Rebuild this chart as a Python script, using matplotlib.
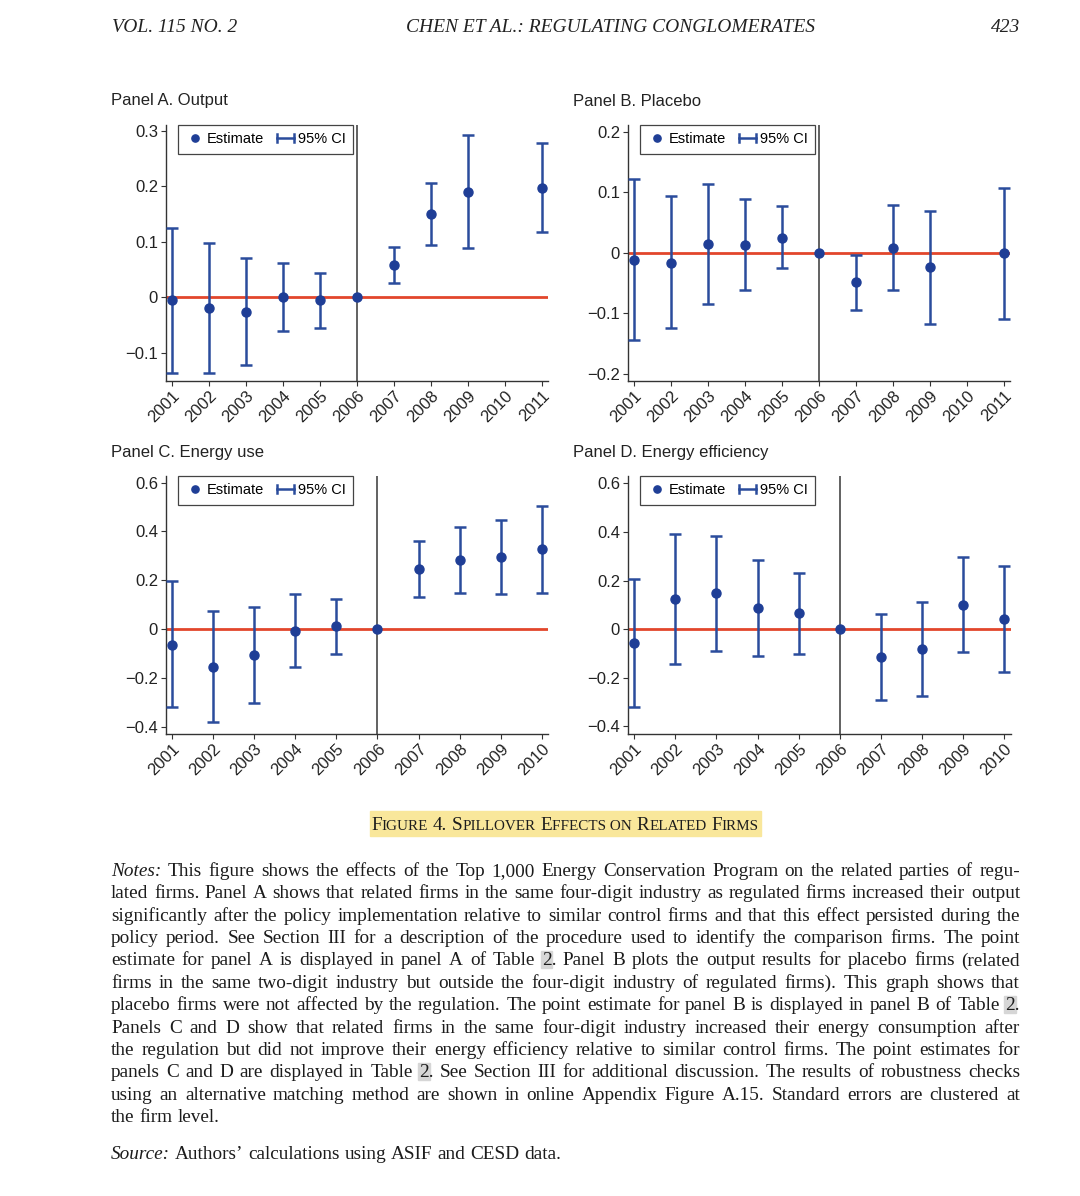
import matplotlib
matplotlib.use('Agg')
import matplotlib.pyplot as plt
from matplotlib.lines import Line2D
from matplotlib.patches import Rectangle
from matplotlib.legend_handler import HandlerBase
import numpy as np

# ---- data ----
years_ab = [2001, 2002, 2003, 2004, 2005, 2006, 2007, 2008, 2009, 2011]
years_cd = [2001, 2002, 2003, 2004, 2005, 2006, 2007, 2008, 2009, 2010]

out_est = [-0.006, -0.020, -0.027, 0.000, -0.006, 0.0, 0.058, 0.149, 0.190, 0.197]
out_lo = [-0.137, -0.137, -0.123, -0.061, -0.056, None, 0.025, 0.094, 0.089, 0.117]
out_hi = [0.125, 0.097, 0.070, 0.062, 0.044, None, 0.091, 0.205, 0.292, 0.278]

plc_est = [-0.012, -0.017, 0.014, 0.013, 0.025, 0.0, -0.049, 0.008, -0.024, -0.001]
plc_lo = [-0.144, -0.125, -0.085, -0.062, -0.026, None, -0.094, -0.062, -0.118, -0.109]
plc_hi = [0.121, 0.093, 0.114, 0.089, 0.077, None, -0.003, 0.079, 0.069, 0.107]

eng_est = [-0.064, -0.155, -0.106, -0.007, 0.012, 0.0, 0.245, 0.284, 0.296, 0.327]
eng_lo = [-0.319, -0.382, -0.303, -0.157, -0.102, None, 0.131, 0.147, 0.145, 0.147]
eng_hi = [0.195, 0.074, 0.091, 0.143, 0.125, None, 0.361, 0.417, 0.446, 0.506]

eff_est = [-0.056, 0.125, 0.148, 0.086, 0.066, 0.0, -0.115, -0.081, 0.101, 0.041]
eff_lo = [-0.321, -0.144, -0.088, -0.110, -0.100, None, -0.290, -0.273, -0.092, -0.174]
eff_hi = [0.208, 0.393, 0.384, 0.285, 0.233, None, 0.062, 0.110, 0.296, 0.260]

yticks_a = [-0.1, 0, 0.1, 0.2, 0.3]
yticks_b = [-0.2, -0.1, 0, 0.1, 0.2]
yticks_cd = [-0.4, -0.2, 0, 0.2, 0.4, 0.6]
xticks_ab = list(range(2001, 2012))
xticks_cd = list(range(2001, 2011))

header_left = "VOL. 115 NO. 2"
header_mid = "CHEN ET AL.: REGULATING CONGLOMERATES"
header_right = "423"

notes_lines = [
    "Notes: This figure shows the effects of the Top 1,000 Energy Conservation Program on the related parties of regu-",
    "lated firms. Panel A shows that related firms in the same four-digit industry as regulated firms increased their output",
    "significantly after the policy implementation relative to similar control firms and that this effect persisted during the",
    "policy period. See Section III for a description of the procedure used to identify the comparison firms. The point",
    "estimate for panel A is displayed in panel A of Table 2. Panel B plots the output results for placebo firms (related",
    "firms in the same two-digit industry but outside the four-digit industry of regulated firms). This graph shows that",
    "placebo firms were not affected by the regulation. The point estimate for panel B is displayed in panel B of Table 2.",
    "Panels C and D show that related firms in the same four-digit industry increased their energy consumption after",
    "the regulation but did not improve their energy efficiency relative to similar control firms. The point estimates for",
    "panels C and D are displayed in Table 2. See Section III for additional discussion. The results of robustness checks",
    "using an alternative matching method are shown in online Appendix Figure A.15. Standard errors are clustered at",
    "the firm level.",
]
source_line = "Source: Authors\u2019 calculations using ASIF and CESD data."

W, H = 1080, 1196
blue = '#2a4c9c'
dot = '#1f3e96'
red = '#e2462c'
ink = '#1c1c1c'
sans = ['Liberation Sans', 'DejaVu Sans']
serif = ['Liberation Serif', 'DejaVu Serif']

fig = plt.figure(figsize=(W / 100, H / 100), dpi=100)
rend = fig.canvas.get_renderer()


def box(l, t, r, b):
    return [l / W, 1 - b / H, (r - l) / W, (b - t) / H]


class CIHandle:
    pass


class HandlerCI(HandlerBase):
    def create_artists(self, legend, orig_handle, xdescent, ydescent,
                       width, height, fontsize, trans):
        y = height / 2 - ydescent
        x0, x1 = -xdescent + 1, width - xdescent - 1
        h = height * 0.42
        arts = [Line2D([x0, x1], [y, y], color=blue, lw=1.8),
                Line2D([x0, x0], [y - h, y + h], color=blue, lw=1.8),
                Line2D([x1, x1], [y - h, y + h], color=blue, lw=1.8)]
        for a in arts:
            a.set_transform(trans)
        return arts


def fmt(v):
    if v == 0:
        return '0'
    return ('%.1f' % v).replace('-', '\u2212')


def panel(rect, title, years, est, lo, hi, ylim, yticks, xticks, xlim):
    ax = fig.add_axes(box(*rect))
    x = np.array(years, dtype=float)
    e = np.array(est, dtype=float)
    l = np.array([np.nan if v is None else v for v in lo])
    u = np.array([np.nan if v is None else v for v in hi])
    m = ~np.isnan(l)
    ax.axvline(2006, color='#555555', lw=1.3, zorder=1)
    ax.axhline(0, color=red, lw=2.0, zorder=2)
    ax.errorbar(x[m], e[m], yerr=[e[m] - l[m], u[m] - e[m]], fmt='none',
                ecolor=blue, elinewidth=1.8, capsize=4.5, capthick=1.8, zorder=3)
    ax.plot(x, e, 'o', color=dot, ms=6.5, zorder=4)
    ax.set_xlim(*xlim)
    ax.set_ylim(*ylim)
    ax.set_yticks(yticks)
    ax.set_yticklabels([fmt(v) for v in yticks])
    ax.set_xticks(xticks)
    ax.set_xticklabels([str(v) for v in xticks], rotation=45, ha='right',
                       va='top', rotation_mode='anchor')
    for s in ['top', 'right']:
        ax.spines[s].set_visible(False)
    for s in ['left', 'bottom']:
        ax.spines[s].set_color('#333333')
        ax.spines[s].set_linewidth(1.0)
    ax.tick_params(direction='out', length=3.5, width=0.8, color='#333333',
                   labelsize=12, labelcolor='#222222', pad=2)
    for t in ax.get_xticklabels() + ax.get_yticklabels():
        t.set_family(sans)
    hs = [Line2D([], [], marker='o', ls='none', color=dot, ms=5.2), CIHandle()]
    leg = ax.legend(hs, ['Estimate', '95% CI'], handler_map={CIHandle: HandlerCI()},
                    loc='upper left', bbox_to_anchor=(12 / (rect[2] - rect[0]), 1.0),
                    ncol=2, fancybox=False, framealpha=1, edgecolor='#444444',
                    borderaxespad=0, borderpad=0.5, handlelength=1.35,
                    handletextpad=0.15, columnspacing=0.8,
                    prop={'family': sans, 'size': 10.5})
    leg.get_frame().set_linewidth(0.9)
    fig.text((rect[0] - 55) / W, 1 - (rect[1] - 24) / H, title, family=sans,
             fontsize=12, color='#222222', ha='left', va='center')
    return ax


panel((165.7, 125, 548, 381), 'Panel A. Output', years_ab, out_est, out_lo, out_hi,
      (-0.151, 0.31), yticks_a, xticks_ab, (2000.83, 2011.17))
panel((627.7, 125, 1010, 381), 'Panel B. Placebo', years_ab, plc_est, plc_lo, plc_hi,
      (-0.212, 0.211), yticks_b, xticks_ab, (2000.82, 2011.16))
panel((165.7, 476, 548, 734), 'Panel C. Energy use', years_cd, eng_est, eng_lo, eng_hi,
      (-0.43, 0.627), yticks_cd, xticks_cd, (2000.85, 2010.15))
panel((627.7, 476, 1010.7, 734), 'Panel D. Energy efficiency', years_cd, eff_est, eff_lo, eff_hi,
      (-0.431, 0.63), yticks_cd, xticks_cd, (2000.84, 2010.16))

# ---- running header ----
hdr = dict(family=serif, style='italic', fontsize=14, color='#222222', va='center')
fig.text(112 / W, 1 - 27 / H, header_left, ha='left', **hdr)
fig.text(610 / W, 1 - 27 / H, header_mid, ha='center', **hdr)
fig.text(1020 / W, 1 - 27 / H, header_right, ha='right', **hdr)


def width_of(t):
    return t.get_window_extent(rend).width


def space_width(size):
    r1 = fig.text(0, 0, 'a a', family=serif, fontsize=size)
    r2 = fig.text(0, 0, 'aa', family=serif, fontsize=size)
    s = width_of(r1) - width_of(r2)
    r1.remove()
    r2.remove()
    return s


# ---- caption in small caps ----
cap_parts = [('F', 1), ('IGURE', 0), (' ', 1), ('4.', 1), (' ', 1), ('S', 1), ('PILLOVER', 0),
             (' ', 1), ('E', 1), ('FFECTS ON', 0), (' ', 1), ('R', 1), ('ELATED', 0),
             (' ', 1), ('F', 1), ('IRMS', 0)]
big, small = 13.8, 10.9
sp_big = space_width(big)
arts, ws = [], []
for s, k in cap_parts:
    if s == ' ':
        arts.append(None)
        ws.append(sp_big)
        continue
    a = fig.text(0, 1 - 830 / H, s, family=serif, fontsize=big if k else small,
                 color=ink, va='baseline', ha='left', zorder=3)
    arts.append(a)
    ws.append(width_of(a))
x = 565 - sum(ws) / 2
for a, w in zip(arts, ws):
    if a is not None:
        a.set_x(x / W)
    x += w
fig.add_artist(Rectangle((370 / W, 1 - 836 / H), 391 / W, 25 / H,
                         transform=fig.transFigure, color='#f9e79b', zorder=1))

# ---- justified notes: pick the body size so the widest line just fits ----
x_left, x_right = 111, 1020
probe = 12.0
sp_probe = space_width(probe)
widest = 0
for line in notes_lines:
    tt = [fig.text(0, 0, w, family=serif, fontsize=probe) for w in line.split(' ')]
    nat = sum(width_of(t) for t in tt) + sp_probe * (len(tt) - 1)
    widest = max(widest, nat)
    for t in tt:
        t.remove()
body = probe * (x_right - x_left) / widest * 0.985
sp = space_width(body)


def put_line(y, text, justify=True):
    words = text.split(' ')
    arts = []
    for i, w in enumerate(words):
        st = 'italic' if (i == 0 and w in ('Notes:', 'Source:')) else 'normal'
        arts.append(fig.text(0, 1 - y / H, w, family=serif, style=st, fontsize=body,
                             color=ink, va='baseline', ha='left', zorder=3))
    wid = [width_of(a) for a in arts]
    gap = (x_right - x_left - sum(wid)) / (len(arts) - 1) if justify else sp
    x = x_left
    for a, w, word in zip(arts, wid, words):
        a.set_x(x / W)
        if word.startswith('2.'):
            t2 = fig.text(0, 0, '2', family=serif, fontsize=body)
            w2 = width_of(t2)
            t2.remove()
            fig.add_artist(Rectangle(((x - 1) / W, 1 - (y + 3) / H), (w2 + 2) / W, 17 / H,
                                     transform=fig.transFigure, color='#d6d6d6', zorder=1))
        x += w + gap


for i, line in enumerate(notes_lines):
    put_line(876 + i * 22.36, line, justify=(i < len(notes_lines) - 1))
put_line(1159, source_line, justify=False)

fig.savefig('out.png', dpi=100)
